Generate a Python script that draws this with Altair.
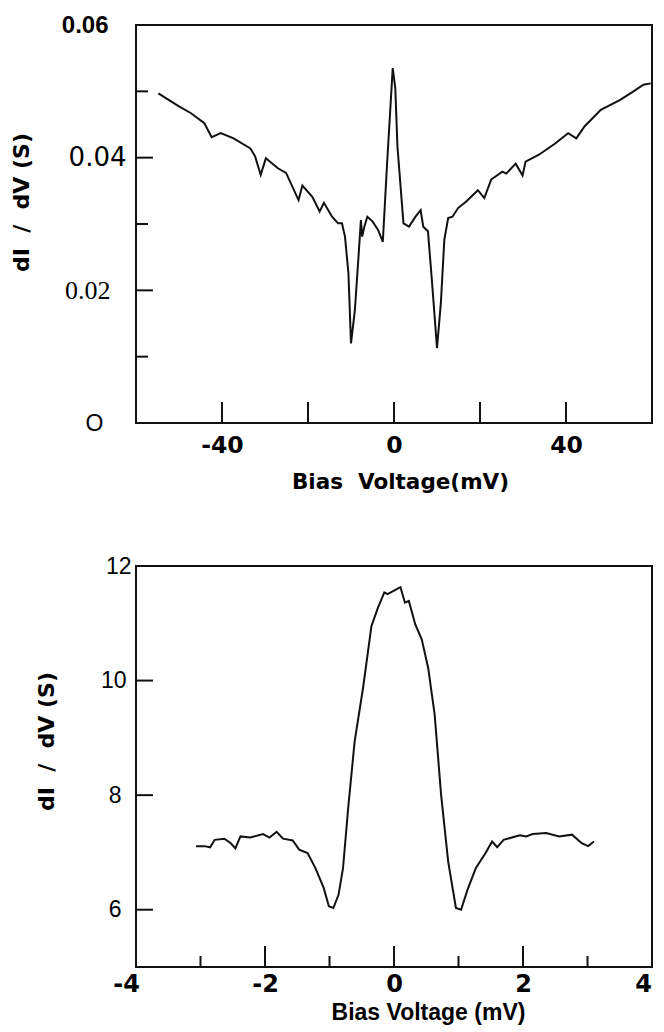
import altair as alt
import pandas as pd

# ---------------- data: top panel (dI/dV in S vs bias in mV) ----------------
top_mv = [-54.8, -50.2, -47.2, -44.1, -42.4, -40.3, -37.3, -33.4, -32.3, -31.0,
          -29.8, -27.0, -25.1, -22.2, -21.3, -19.0, -17.3, -16.3, -14.4, -13.0,
          -12.1, -11.4, -10.6, -10.0, -9.1, -8.2, -7.7, -7.4, -6.9, -6.2,
          -5.0, -3.7, -2.6, -1.6, -0.3, 0.3, 0.8, 2.2, 3.5, 5.0,
          6.2, 6.8, 7.9, 8.8, 10.0, 10.9, 11.7, 12.6, 13.6, 14.9,
          16.8, 19.5, 21.0, 22.6, 25.2, 26.1, 28.3, 29.9, 30.6, 33.6,
          37.4, 40.5, 42.4, 44.3, 48.1, 52.6, 55.7, 58.0, 59.7]
top_s = [0.0497, 0.0478, 0.0467, 0.0452, 0.0431, 0.0437, 0.0429, 0.0414, 0.0402, 0.0374,
         0.0399, 0.0384, 0.0377, 0.0336, 0.0358, 0.0341, 0.0319, 0.0332, 0.0311, 0.0301,
         0.0301, 0.0281, 0.0226, 0.0120, 0.0170, 0.0256, 0.0306, 0.0281, 0.0296, 0.0311,
         0.0304, 0.0291, 0.0273, 0.0392, 0.0535, 0.0505, 0.0417, 0.0301, 0.0296, 0.0311,
         0.0321, 0.0296, 0.0289, 0.0216, 0.0113, 0.0181, 0.0276, 0.0309, 0.0311, 0.0324,
         0.0334, 0.0351, 0.0339, 0.0367, 0.0379, 0.0376, 0.0391, 0.0373, 0.0394, 0.0404,
         0.0421, 0.0437, 0.0429, 0.0447, 0.0472, 0.0487, 0.0500, 0.0510, 0.0512]

top_x_labels = [-40, 0, 40]
top_x_ticks = [-40, -20, 0, 20, 40]
top_y_labels = [0, 0.02, 0.04, 0.06]
top_y_ticks_long = [0.02, 0.04]
top_y_ticks_short = [0.01, 0.03, 0.05]

# ---------------- data: bottom panel ----------------
bot_mv = [-3.07, -2.94, -2.85, -2.78, -2.63, -2.53, -2.46, -2.38, -2.23, -2.03,
          -1.93, -1.82, -1.72, -1.57, -1.47, -1.34, -1.22, -1.09, -1.01, -0.94,
          -0.86, -0.79, -0.71, -0.61, -0.48, -0.35, -0.25, -0.15, -0.10, 0.00,
          0.10, 0.17, 0.23, 0.33, 0.43, 0.53, 0.63, 0.73, 0.84, 0.96,
          1.04, 1.14, 1.27, 1.42, 1.52, 1.60, 1.70, 1.95, 2.05, 2.15,
          2.36, 2.56, 2.76, 2.91, 3.01, 3.10]
bot_s = [7.11, 7.11, 7.09, 7.22, 7.24, 7.16, 7.07, 7.28, 7.26, 7.32,
         7.26, 7.36, 7.24, 7.21, 7.05, 6.99, 6.73, 6.38, 6.06, 6.03,
         6.26, 6.73, 7.78, 8.94, 9.87, 10.95, 11.27, 11.54, 11.51, 11.57,
         11.63, 11.36, 11.39, 10.98, 10.72, 10.22, 9.41, 8.01, 6.84, 6.03,
         6.00, 6.35, 6.73, 6.99, 7.19, 7.09, 7.22, 7.30, 7.28, 7.32,
         7.34, 7.28, 7.31, 7.16, 7.11, 7.19]

bot_x_labels = [-4, -2, 0, 2, 4]
bot_x_ticks_long = [-2, 0, 2]
bot_x_ticks_short = [-3, -1, 1, 3]
bot_y_labels = [6, 8, 10, 12]
bot_y_ticks = [6, 8, 10]

NB = "\u00a0"
W = 516
H1 = 398
H2 = 401
INK = "#111111"

# ---------------- top panel ----------------
xs1 = alt.Scale(domain=[-60, 60], nice=False, zero=False)
ys1 = alt.Scale(domain=[0, 0.06], nice=False)

x_axis1 = alt.Axis(
    values=top_x_labels, grid=False, domain=False, ticks=False, tickSize=0,
    labelExpr="'' + datum.value",
    labelFont="DejaVu Sans", labelFontWeight="bold", labelFontSize=23.5,
    labelColor="black", labelPadding=10.5, labelFlush=False,
    title="Bias" + NB + NB + "Voltage(mV)", titleFont="DejaVu Sans",
    titleFontWeight="bold", titleFontSize=21.5, titleColor="black",
    titleX=264, titleY=48.5, titleBaseline="top", titleAlign="center",
)
y_axis1 = alt.Axis(
    values=top_y_labels, grid=False, domain=False, ticks=False, tickSize=0,
    labelExpr="datum.value == 0 ? 'O' : format(datum.value, '.2f')",
    labelFont={"condition": [{"test": "datum.value == 0.04", "value": "DejaVu Sans"},
                             {"test": "datum.value == 0.02", "value": "Liberation Serif"}],
               "value": "Liberation Sans"},
    labelFontWeight={"condition": {"test": "datum.value == 0.06", "value": "bold"},
                     "value": "normal"},
    labelFontSize={"condition": [{"test": "datum.value == 0.04", "value": 26},
                                 {"test": "datum.value == 0.02", "value": 26},
                                 {"test": "datum.value == 0", "value": 23}],
                   "value": 24},
    labelPadding={"condition": [{"test": "datum.value == 0.04", "value": 10},
                                {"test": "datum.value == 0.02", "value": 26},
                                {"test": "datum.value == 0", "value": 33}],
                  "value": 28},
    labelColor="black", labelBaseline="middle",
    title="dI" + NB + NB + "/" + NB + NB + "dV" + NB + "(S)", titleFont="DejaVu Sans",
    titleFontWeight="bold", titleFontSize=22, titleColor="black",
    titleAngle=270, titleX=-115, titleY=177, titleAlign="center", titleBaseline="middle",
)

df1 = pd.DataFrame({"mV": top_mv, "S": top_s})
line1 = alt.Chart(df1).mark_line(color=INK, strokeWidth=2).encode(
    x=alt.X("mV:Q", scale=xs1, axis=x_axis1),
    y=alt.Y("S:Q", scale=ys1, axis=y_axis1),
)
xt1 = alt.Chart(pd.DataFrame({"mV": top_x_ticks})).mark_rule(color=INK, strokeWidth=2).encode(
    x=alt.X("mV:Q", scale=xs1), y=alt.value(H1), y2=alt.value(H1 - 21))
yt1a = alt.Chart(pd.DataFrame({"S": top_y_ticks_long})).mark_rule(color=INK, strokeWidth=2).encode(
    y=alt.Y("S:Q", scale=ys1), x=alt.value(0), x2=alt.value(17))
yt1b = alt.Chart(pd.DataFrame({"S": top_y_ticks_short})).mark_rule(color=INK, strokeWidth=2).encode(
    y=alt.Y("S:Q", scale=ys1), x=alt.value(0), x2=alt.value(12))
top = alt.layer(line1, xt1, yt1a, yt1b).properties(width=W, height=H1)

# ---------------- bottom panel ----------------
xs2 = alt.Scale(domain=[-4, 4], nice=False, zero=False)
ys2 = alt.Scale(domain=[5, 12], nice=False, zero=False)

x_axis2 = alt.Axis(
    values=bot_x_labels, grid=False, domain=False, ticks=False, tickSize=0,
    labelExpr="'' + datum.value",
    labelFont="DejaVu Sans", labelFontWeight="bold", labelFontSize=24,
    labelColor="black", labelPadding=5, labelFlush=False,
    labelOffset={"condition": [{"test": "datum.value == -4", "value": -10},
                               {"test": "datum.value == 4", "value": -9}],
                 "value": 0},
    title="Bias Voltage (mV)", titleFont="Liberation Sans",
    titleFontWeight="bold", titleFontSize=23, titleColor="black",
    titleX=292, titleY=34, titleBaseline="top", titleAlign="center",
)
y_axis2 = alt.Axis(
    values=bot_y_labels, grid=False, domain=False, ticks=False, tickSize=0,
    labelExpr="'' + datum.value",
    labelFont="Liberation Sans", labelFontSize=23, labelColor="black", labelBaseline="middle",
    labelPadding={"condition": [{"test": "datum.value == 12", "value": 5},
                                {"test": "datum.value == 10", "value": 10}],
                  "value": 15},
    title="dI" + NB + NB + "/" + NB + NB + "dV" + NB + "(S)", titleFont="DejaVu Sans",
    titleFontWeight="bold", titleFontSize=22, titleColor="black",
    titleAngle=270, titleX=-90, titleY=175, titleAlign="center", titleBaseline="middle",
)

df2 = pd.DataFrame({"mV": bot_mv, "G": bot_s})
line2 = alt.Chart(df2).mark_line(color=INK, strokeWidth=2).encode(
    x=alt.X("mV:Q", scale=xs2, axis=x_axis2),
    y=alt.Y("G:Q", scale=ys2, axis=y_axis2),
)
xt2a = alt.Chart(pd.DataFrame({"mV": bot_x_ticks_long})).mark_rule(color=INK, strokeWidth=2).encode(
    x=alt.X("mV:Q", scale=xs2), y=alt.value(H2), y2=alt.value(H2 - 21))
xt2b = alt.Chart(pd.DataFrame({"mV": bot_x_ticks_short})).mark_rule(color=INK, strokeWidth=2).encode(
    x=alt.X("mV:Q", scale=xs2), y=alt.value(H2), y2=alt.value(H2 - 11))
yt2 = alt.Chart(pd.DataFrame({"G": bot_y_ticks})).mark_rule(color=INK, strokeWidth=2).encode(
    y=alt.Y("G:Q", scale=ys2), x=alt.value(0), x2=alt.value(17))
bottom = alt.layer(line2, xt2a, xt2b, yt2).properties(width=W, height=H2)

chart = alt.vconcat(top, bottom, spacing=60).properties(
    padding={"left": 1, "top": 4, "right": 0, "bottom": 0},
    background="white",
).configure_view(stroke=INK, strokeWidth=2)

chart.save("out.html", embed_options={"renderer": "svg", "actions": False})
